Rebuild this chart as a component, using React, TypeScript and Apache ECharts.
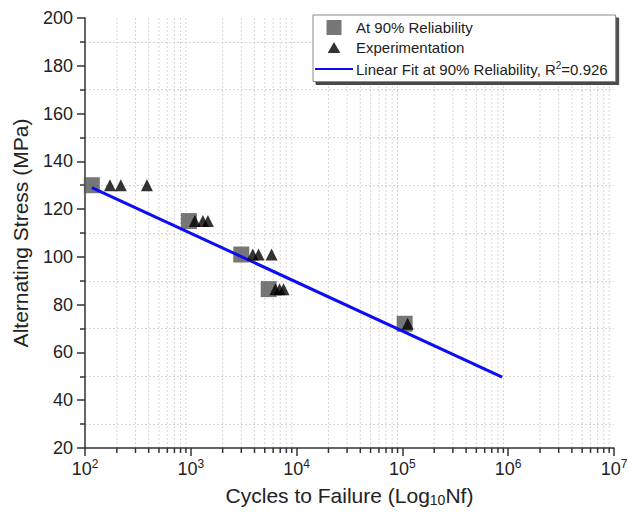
import React, { useEffect, useRef } from "react";
import * as echarts from "echarts";

// Fatigue test results: stress amplitude vs. cycles to failure
const reliabilityCycles = [116, 960, 3000, 5450, 105000];
const reliabilityStress = [130, 115, 101, 86.5, 72];

const experimentCycles = [
  172, 218, 385,
  1090, 1300, 1450,
  3850, 4370, 5800,
  6300, 6900, 7530,
  112000,
];
const experimentStress = [
  130, 130, 130,
  115, 115, 115,
  101, 101, 101,
  86.5, 86.5, 86.5,
  72,
];

// Linear fit (stress vs. log10 N) endpoints
const fitCycles = [116, 877000];
const fitStress = [129, 49.7];

const X_MIN = 100;
const X_MAX = 1e7;
const Y_MIN = 20;
const Y_MAX = 200;
const Y_STEP = 20;

const SERIES_RELIABILITY = "At 90% Reliability";
const SERIES_EXPERIMENT = "Experimentation";
const SERIES_FIT = "Linear Fit at 90% Reliability, R²=0.926";

const FONT = "Arial, 'Liberation Sans', sans-serif";
const AXIS_COLOR = "#333333";
const TEXT_COLOR = "#222222";
const GRID_COLOR = "#d6d6d6";

// legend icons; the extra move-to points pad the bounding box so the
// glyph keeps its size inside the legend item slot
const ICON_SQUARE = "path://M0,0L1,0L1,1L0,1Z";
const ICON_TRIANGLE = "path://M0,-0.32M2,2.05M1,0L2,1.73L0,1.73Z";

// minor ticks of the log axis: 2..9 within each decade
const logMinorTicks: number[] = [];
for (let d = X_MIN; d < X_MAX; d *= 10) {
  for (let m = 2; m <= 9; m++) logMinorTicks.push(d * m);
}

export default function App() {
  const ref = useRef<HTMLDivElement>(null);

  useEffect(() => {
    if (!ref.current) return;
    const chart = echarts.init(ref.current, undefined, { renderer: "svg" });

    const option: any = {
      animation: false,
      backgroundColor: "#ffffff",
      textStyle: { fontFamily: FONT },
      grid: {
        left: 85,
        right: 14,
        top: 18,
        bottom: 71,
        containLabel: false,
        outerBoundsMode: "none",
      },
      legend: {
        orient: "vertical",
        left: 313,
        top: 15,
        data: [
          { name: SERIES_RELIABILITY, icon: ICON_SQUARE },
          { name: SERIES_EXPERIMENT, icon: ICON_TRIANGLE },
          {
            name: SERIES_FIT,
            itemStyle: { color: "rgba(0,0,0,0)", opacity: 0, borderWidth: 0 },
          },
        ],
        formatter: (name: string) =>
          name === SERIES_FIT
            ? "{t|Linear Fit at 90% Reliability, R}{s|2}{t|=0.926}"
            : `{t|${name}}`,
        itemWidth: 38,
        itemHeight: 15,
        itemGap: 5,
        padding: [5, 8, 5, 1],
        symbolKeepAspect: true,
        backgroundColor: "#ffffff",
        borderColor: "#8a8a8a",
        borderWidth: 1,
        borderRadius: 0,
        shadowColor: "#4a4a4a",
        shadowBlur: 0,
        shadowOffsetX: 3,
        shadowOffsetY: 3,
        selectedMode: false,
        textStyle: {
          fontFamily: FONT,
          fontSize: 15,
          color: TEXT_COLOR,
          padding: [0, 0, 0, -2],
          rich: {
            t: { fontFamily: FONT, fontSize: 15, color: TEXT_COLOR },
            s: { fontFamily: FONT, fontSize: 10, color: TEXT_COLOR, padding: [0, 0, 8, 0] },
          },
        },
      },
      xAxis: {
        type: "log",
        logBase: 10,
        min: X_MIN,
        max: X_MAX,
        name: "{a|Cycles to Failure (Log}{sub|10}{a|Nf)}",
        nameLocation: "middle",
        nameGap: 35,
        nameTextStyle: {
          rich: {
            a: { fontFamily: FONT, fontSize: 21, color: TEXT_COLOR },
            sub: { fontFamily: FONT, fontSize: 14, color: TEXT_COLOR, padding: [10, 0, 0, 0] },
          },
        },
        axisLine: { show: true, onZero: false, lineStyle: { color: AXIS_COLOR, width: 1.5 } },
        axisTick: { show: true, inside: false, length: 8, lineStyle: { color: AXIS_COLOR, width: 1.5 } },
        minorTick: { show: false },
        splitLine: { show: false },
        axisLabel: {
          margin: 10,
          formatter: (v: number) => `{b|10}{sup|${Math.round(Math.log10(v))}}`,
          rich: {
            b: { fontFamily: FONT, fontSize: 18, color: TEXT_COLOR },
            sup: { fontFamily: FONT, fontSize: 12, color: TEXT_COLOR, padding: [0, 0, 10, 0] },
          },
        },
      },
      yAxis: {
        type: "value",
        min: Y_MIN,
        max: Y_MAX,
        interval: Y_STEP,
        name: "Alternating Stress (MPa)",
        nameLocation: "middle",
        nameGap: 54,
        nameTextStyle: { fontFamily: FONT, fontSize: 21, color: TEXT_COLOR },
        axisLine: { show: true, lineStyle: { color: AXIS_COLOR, width: 1.5 } },
        axisTick: { show: true, inside: false, length: 8, lineStyle: { color: AXIS_COLOR, width: 1.5 } },
        minorTick: { show: true, splitNumber: 2, length: 5, lineStyle: { color: AXIS_COLOR, width: 1.5 } },
        splitLine: { show: false },
        minorSplitLine: { show: true, lineStyle: { color: GRID_COLOR, type: [2, 2], width: 1 } },
        axisLabel: { margin: 12, fontFamily: FONT, fontSize: 18, color: TEXT_COLOR },
      },
      series: [
        {
          // log-decade minor ticks and dotted grid lines
          type: "custom",
          name: "minor",
          coordinateSystem: "cartesian2d",
          silent: true,
          clip: false,
          z: 0,
          data: logMinorTicks.map((v) => [v, Y_MIN]),
          renderItem: (_params: any, api: any) => {
            const v = api.value(0);
            const top = api.coord([v, Y_MAX]);
            const bottom = api.coord([v, Y_MIN]);
            return {
              type: "group",
              children: [
                {
                  type: "line",
                  shape: { x1: top[0], y1: top[1], x2: bottom[0], y2: bottom[1] },
                  style: { stroke: GRID_COLOR, lineWidth: 1, lineDash: [2, 2] },
                },
                {
                  type: "line",
                  shape: { x1: bottom[0], y1: bottom[1], x2: bottom[0], y2: bottom[1] + 5 },
                  style: { stroke: AXIS_COLOR, lineWidth: 1.5 },
                },
              ],
            };
          },
        },
        {
          name: SERIES_RELIABILITY,
          type: "scatter",
          symbol: "rect",
          symbolSize: 16,
          z: 2,
          itemStyle: { color: "#555555" },
          data: reliabilityCycles.map((c, i) => [c, reliabilityStress[i]]),
        },
        {
          name: SERIES_FIT,
          type: "line",
          symbol: "none",
          z: 3,
          lineStyle: { color: "#0c0cf5", width: 3 },
          itemStyle: { color: "#0c0cf5" },
          data: fitCycles.map((c, i) => [c, fitStress[i]]),
        },
        {
          name: SERIES_EXPERIMENT,
          type: "scatter",
          symbol: "triangle",
          symbolSize: 12,
          z: 4,
          itemStyle: { color: "#000000" },
          data: experimentCycles.map((c, i) => [c, experimentStress[i]]),
        },
      ],
    };

    chart.setOption(option);
    return () => chart.dispose();
  }, []);

  return (
    <div
      ref={ref}
      style={{ position: "fixed", left: 0, top: 0, width: 628, height: 519 }}
    />
  );
}
